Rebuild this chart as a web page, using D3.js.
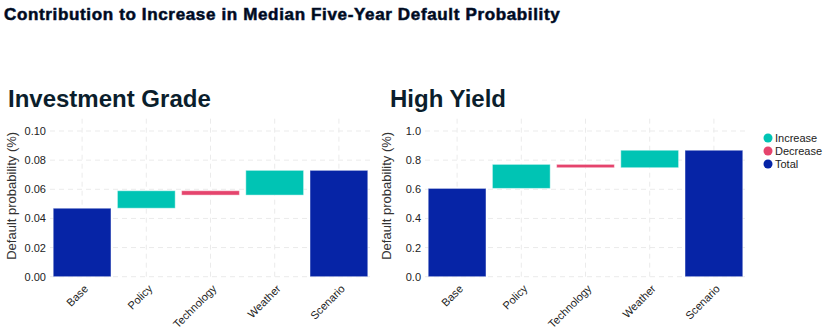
<!DOCTYPE html>
<html>
<head>
  <meta charset="UTF-8">
  <title>Contribution to Increase in Median Five-Year Default Probability</title>
  <style>
    body {
      margin: 0;
      padding: 0;
      background-color: #ffffff;
      font-family: "Liberation Sans", Arial, sans-serif;
    }
    .grid line {
      stroke: #ebebeb;
      stroke-dasharray: 5 4;
      stroke-width: 1;
    }
  </style>
</head>
<body>
  <div id="chart"></div>

  <script src="https://cdnjs.cloudflare.com/ajax/libs/d3/7.8.5/d3.min.js"></script>
  <script>
    const width = 827;
    const height = 332;

    // data
    const categories = ["Base", "Policy", "Technology", "Weather", "Scenario"];
    const igValues = [0.047, 0.012, -0.003, 0.017, 0.073];
    const hyValues = [0.606, 0.165, -0.023, 0.12, 0.868];
    const igTicks = [0, 0.02, 0.04, 0.06, 0.08, 0.10];
    const hyTicks = [0, 0.2, 0.4, 0.6, 0.8, 1.0];
    const legendItems = ["Increase", "Decrease", "Total"];

    const colors = { Increase: "#00c4b4", Decrease: "#e5446d", Total: "#0624a6" };

    const svg = d3.select("#chart")
      .append("svg")
      .attr("width", width)
      .attr("height", height);

    svg.append("text")
      .attr("x", 4)
      .attr("y", 20)
      .attr("font-size", 17)
      .attr("font-weight", "bold")
      .attr("letter-spacing", 0.65)
      .attr("fill", "#000814")
      .attr("stroke", "#0a1a40")
      .attr("stroke-width", 0.6)
      .text("Contribution to Increase in Median Five-Year Default Probability");

    // turn increments into floating bars
    function waterfall(values) {
      let running = 0;
      return values.map((v, i) => {
        if (i === 0 || i === values.length - 1) {
          running = v;
          return { cat: categories[i], y0: 0, y1: v, kind: "Total" };
        }
        const start = running;
        running += v;
        return { cat: categories[i], y0: start, y1: running, kind: v >= 0 ? "Increase" : "Decrease" };
      });
    }

    function drawPanel(opts) {
      const g = svg.append("g");
      const x = d3.scaleBand()
        .domain(categories)
        .range([opts.x0, opts.x0 + 321])
        .paddingInner(0.1)
        .paddingOuter(0.05);
      const y = d3.scaleLinear()
        .domain([0, opts.max])
        .range([276.7, 276.7 - 145.7 * opts.max / opts.ticks[5]]);

      // grid
      const grid = g.append("g").attr("class", "grid");
      grid.selectAll("line.h")
        .data(opts.ticks)
        .enter()
        .append("line")
        .attr("x1", x.range()[0])
        .attr("x2", x.range()[1])
        .attr("y1", d => y(d))
        .attr("y2", d => y(d));
      grid.selectAll("line.v")
        .data(categories)
        .enter()
        .append("line")
        .attr("x1", d => x(d) + x.bandwidth() / 2)
        .attr("x2", d => x(d) + x.bandwidth() / 2)
        .attr("y1", y(0))
        .attr("y2", y(opts.max));

      // bars
      g.selectAll("rect.bar")
        .data(waterfall(opts.values))
        .enter()
        .append("rect")
        .attr("class", "bar")
        .attr("x", d => x(d.cat))
        .attr("width", x.bandwidth())
        .attr("y", d => y(Math.max(d.y0, d.y1)))
        .attr("height", d => Math.abs(y(d.y0) - y(d.y1)))
        .attr("fill", d => colors[d.kind])
        .attr("stroke", "rgba(255,255,255,0.45)")
        .attr("stroke-width", 1);

      // y axis
      const yAxis = g.append("g")
        .attr("transform", `translate(${x.range()[0]},0)`)
        .call(d3.axisLeft(y).tickValues(opts.ticks).tickFormat(d3.format(opts.fmt)).tickSize(0).tickPadding(4));
      yAxis.select(".domain").remove();
      yAxis.selectAll("text")
        .attr("font-family", "'Liberation Sans', Arial, sans-serif")
        .attr("font-size", 11)
        .attr("fill", "#222");

      // x axis
      const xAxis = g.append("g")
        .attr("transform", `translate(0,${y(0)})`)
        .call(d3.axisBottom(x).tickSize(0));
      xAxis.select(".domain").remove();
      xAxis.selectAll("text")
        .attr("font-family", "'Liberation Sans', Arial, sans-serif")
        .attr("font-size", 11)
        .attr("fill", "#222")
        .attr("text-anchor", "end")
        .attr("y", 0)
        .attr("dy", "0.35em")
        .attr("transform", "translate(4,10) rotate(-45)");

      g.append("text")
        .attr("transform", `translate(${opts.x0 - 34},${y(0.0555 * opts.ticks[5] / 0.1)}) rotate(-90)`)
        .attr("text-anchor", "middle")
        .attr("font-size", 13)
        .attr("fill", "#333")
        .text("Default probability (%)");

      g.append("text")
        .attr("x", opts.titleX)
        .attr("y", 107)
        .attr("font-size", 24)
        .attr("font-weight", "bold")
        .attr("fill", "#0b1e2c")
        .text(opts.title);
    }

    drawPanel({ x0: 50, values: igValues, ticks: igTicks, max: 0.11, fmt: ".2f", title: "Investment Grade", titleX: 8 });
    drawPanel({ x0: 425, values: hyValues, ticks: hyTicks, max: 1.1, fmt: ".1f", title: "High Yield", titleX: 390 });

    // legend
    const legend = svg.append("g")
      .attr("transform", "translate(768,138)");
    const item = legend.selectAll("g")
      .data(legendItems)
      .enter()
      .append("g")
      .attr("transform", (d, i) => `translate(0,${i * 13})`);
    item.append("circle")
      .attr("r", 4.5)
      .attr("fill", d => colors[d]);
    item.append("text")
      .attr("x", 7)
      .attr("dy", "0.35em")
      .attr("font-size", 11)
      .attr("fill", "#222")
      .text(d => d);
  </script>
</body>
</html>
